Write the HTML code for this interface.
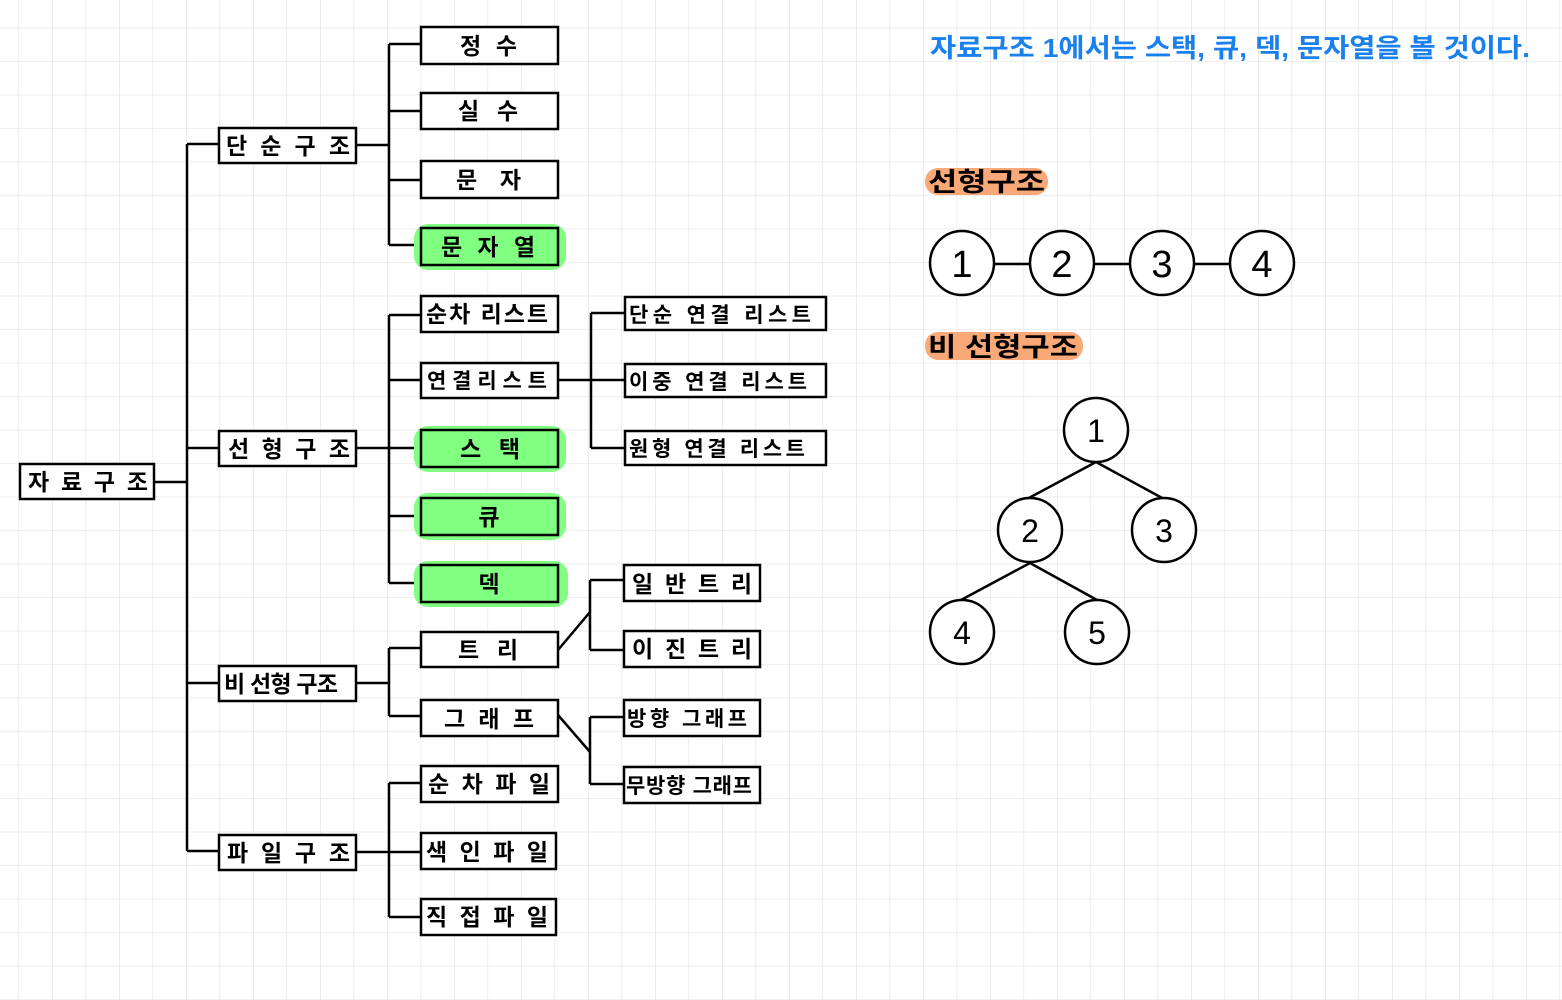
<!DOCTYPE html>
<html><head><meta charset="utf-8"><style>
html,body{margin:0;padding:0;background:#fff}
svg{display:block}
text{font-family:"Liberation Sans","Noto Sans CJK KR","NanumGothic",sans-serif;font-weight:bold}
</style></head><body>
<svg width="1562" height="1000" viewBox="0 0 1562 1000" xmlns="http://www.w3.org/2000/svg">
<defs>
<pattern id="g" x="18.5" y="27.7" width="33.5" height="33.5" patternUnits="userSpaceOnUse">
<path d="M0 0H33.5M0 0V33.5" stroke="#e3e3e3" stroke-width="1.3" fill="none"/>
</pattern>
</defs>
<rect width="1562" height="1000" fill="url(#g)"/>

<g stroke="#000" stroke-width="2.5" fill="none">
<path d="M154 482H187M187 144V851M187 144H219M187 448H219M187 683H219M187 851H219"/>
<path d="M356 145H389M389 44V245M389 44H421M389 111H421M389 180H421M389 245H421"/>
<path d="M356 448H389M389 315V583M389 315H421M389 380H421M389 448H421M389 516H421M389 583H421"/>
<path d="M356 683H389M389 648V716M389 648H421M389 716H421"/>
<path d="M356 852H389M389 783V917M389 783H421M389 852H421M389 917H421"/>
<path d="M558 380H591M591 313V448M591 313H625M591 380H625M591 448H625"/>
<path d="M558 650L590 612M590 580V650M590 580H624M590 650H624"/>
<path d="M558 715L590 752M590 717V784M590 717H624M590 784H624"/>
<path d="M994 264H1030M1094 264H1130M1194 264H1230"/>
<path d="M1096 462L1027 499M1096 462L1164 499M1030 563L961 600M1030 563L1097 600"/>
</g>

<g fill="#80ff80">
<rect x="414" y="224" width="152" height="46" rx="14"/>
<rect x="414" y="426" width="152" height="46" rx="14"/>
<rect x="414" y="493" width="152" height="47" rx="14"/>
<rect x="414" y="561" width="154" height="46" rx="14"/>
</g>

<g stroke="#000" stroke-width="2.5">
<rect x="20" y="464" width="134" height="35" fill="#fff"/>
<rect x="219" y="128" width="137" height="35" fill="#fff"/>
<rect x="219" y="431" width="137" height="35" fill="#fff"/>
<rect x="219" y="666" width="137" height="35" fill="#fff"/>
<rect x="219" y="835" width="137" height="35" fill="#fff"/>
<rect x="421" y="27" width="137" height="37" fill="#fff"/>
<rect x="421" y="93" width="137" height="36" fill="#fff"/>
<rect x="421" y="161" width="137" height="37" fill="#fff"/>
<rect x="421" y="228" width="137" height="37" fill="#80ff80"/>
<rect x="421" y="296" width="137" height="36" fill="#fff"/>
<rect x="421" y="363" width="137" height="35" fill="#fff"/>
<rect x="421" y="430" width="137" height="37" fill="#80ff80"/>
<rect x="421" y="498" width="137" height="37" fill="#80ff80"/>
<rect x="421" y="565" width="137" height="37" fill="#80ff80"/>
<rect x="421" y="632" width="137" height="35" fill="#fff"/>
<rect x="421" y="700" width="137" height="36" fill="#fff"/>
<rect x="421" y="766" width="137" height="36" fill="#fff"/>
<rect x="421" y="833" width="135" height="36" fill="#fff"/>
<rect x="421" y="899" width="135" height="36" fill="#fff"/>
<rect x="625" y="297" width="201" height="33" fill="#fff"/>
<rect x="625" y="364" width="201" height="33" fill="#fff"/>
<rect x="625" y="431" width="201" height="34" fill="#fff"/>
<rect x="624" y="565" width="136" height="36" fill="#fff"/>
<rect x="624" y="631" width="136" height="36" fill="#fff"/>
<rect x="624" y="700" width="136" height="36" fill="#fff"/>
<rect x="624" y="767" width="136" height="36" fill="#fff"/>
</g>

<g font-size="23" fill="#000">
<text x="28" y="490" textLength="120" lengthAdjust="spacing">자료구조</text>
<text x="226" y="154" textLength="124" lengthAdjust="spacing">단순구조</text>
<text x="228" y="457" textLength="122" lengthAdjust="spacing">선형구조</text>
<text x="224" y="692" textLength="114" lengthAdjust="spacing">비 선형 구조</text>
<text x="227" y="861" textLength="123" lengthAdjust="spacing">파일구조</text>
<text x="460" y="54" textLength="57" lengthAdjust="spacing">정수</text>
<text x="458" y="119" textLength="60" lengthAdjust="spacing">실수</text>
<text x="456" y="188" textLength="65" lengthAdjust="spacing">문자</text>
<text x="441" y="255" textLength="94" lengthAdjust="spacing">문자열</text>
<text x="426" y="322" textLength="122" lengthAdjust="spacing">순차 리스트</text>
<text x="427" y="388" textLength="120" lengthAdjust="spacing" font-size="21">연결리스트</text>
<text x="460" y="457" textLength="60" lengthAdjust="spacing">스택</text>
<text x="489" y="525" text-anchor="middle">큐</text>
<text x="489" y="592" text-anchor="middle">덱</text>
<text x="458" y="658" textLength="60" lengthAdjust="spacing">트리</text>
<text x="444" y="727" textLength="90" lengthAdjust="spacing">그래프</text>
<text x="428" y="792" textLength="122" lengthAdjust="spacing">순차파일</text>
<text x="426" y="860" textLength="122" lengthAdjust="spacing">색인파일</text>
<text x="426" y="925" textLength="122" lengthAdjust="spacing">직접파일</text>
<text x="629" y="322" textLength="182" lengthAdjust="spacing" font-size="21">단순 연결 리스트</text>
<text x="629" y="389" textLength="178" lengthAdjust="spacing" font-size="21">이중 연결 리스트</text>
<text x="629" y="456" textLength="176" lengthAdjust="spacing" font-size="21">원형 연결 리스트</text>
<text x="632" y="592" textLength="120" lengthAdjust="spacing">일반트리</text>
<text x="632" y="657" textLength="120" lengthAdjust="spacing">이진트리</text>
<text x="627" y="726" textLength="120" lengthAdjust="spacing" font-size="21">방향 그래프</text>
<text x="626" y="793" textLength="126" lengthAdjust="spacing" font-size="21">무방향 그래프</text>
</g>

<text x="930" y="57" font-size="26" fill="#1a80ee" font-weight="normal" textLength="600" lengthAdjust="spacingAndGlyphs">자료구조 1에서는 스택, 큐, 덱, 문자열을 볼 것이다.</text>

<rect x="925" y="168" width="123" height="27" rx="13" fill="#f9a878"/>
<rect x="925" y="332" width="158" height="28" rx="13" fill="#f9a878"/>
<text x="928" y="191" font-size="26" fill="#000" font-weight="normal" textLength="117" lengthAdjust="spacingAndGlyphs">선형구조</text>
<text x="928" y="356" font-size="26" fill="#000" font-weight="normal" textLength="150" lengthAdjust="spacingAndGlyphs">비 선형구조</text>

<g stroke="#000" stroke-width="2.5" fill="#fff">
<circle cx="962" cy="263" r="32"/>
<circle cx="1062" cy="263" r="32"/>
<circle cx="1162" cy="263" r="32"/>
<circle cx="1262" cy="263" r="32"/>
<circle cx="1096" cy="430" r="32"/>
<circle cx="1030" cy="530" r="32"/>
<circle cx="1164" cy="530" r="32"/>
<circle cx="962" cy="632" r="32"/>
<circle cx="1097" cy="632" r="32"/>
</g>
<g font-size="38" fill="#000" text-anchor="middle">
<text x="962" y="277" style="font-weight:normal">1</text>
<text x="1062" y="277" style="font-weight:normal">2</text>
<text x="1162" y="277" style="font-weight:normal">3</text>
<text x="1262" y="277" style="font-weight:normal">4</text>
<text x="1096" y="442" font-size="32" style="font-weight:normal">1</text>
<text x="1030" y="542" font-size="32" style="font-weight:normal">2</text>
<text x="1164" y="542" font-size="32" style="font-weight:normal">3</text>
<text x="962" y="644" font-size="32" style="font-weight:normal">4</text>
<text x="1097" y="644" font-size="32" style="font-weight:normal">5</text>
</g>
</svg>
</body></html>
